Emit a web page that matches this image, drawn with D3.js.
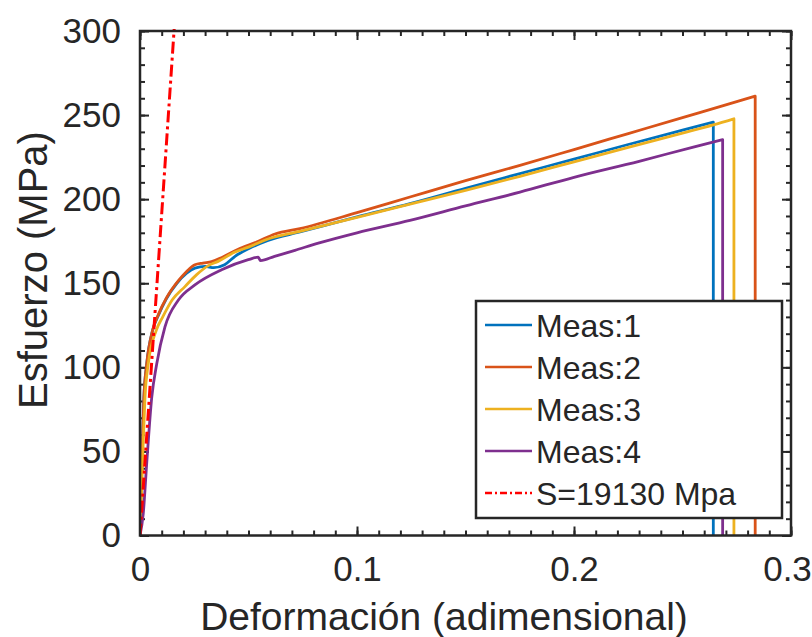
<!DOCTYPE html>
<html>
<head>
<meta charset="utf-8">
<script src="https://cdn.jsdelivr.net/npm/d3@7/dist/d3.min.js"></script>
<style>
  html, body { margin: 0; padding: 0; background: #fff; }
  svg text { font-family: "Liberation Sans", Arial, Helvetica, sans-serif; fill: #262626; }
</style>
</head>
<body>
<svg id="chart" width="812" height="637"></svg>
<script>
// ---- data (strain, stress MPa) ----
const seriesNames = ["Meas:1", "Meas:2", "Meas:3", "Meas:4"];
const seriesColors = ["#0072BD", "#D95319", "#EDB120", "#7E2F8E"];

const meas1 = [[0,0],[0.0005,25],[0.0011,53],[0.0018,82],[0.0031,102],[0.0058,122],[0.0085,131],[0.012,140.5],[0.017,150],[0.0215,156],[0.0253,159],[0.030,160],[0.034,159.3],[0.039,161],[0.0438,166],[0.05,170.5],[0.059,175.5],[0.0737,180.5],[0.1,189.5],[0.1244,197.4],[0.15,206.5],[0.1751,215.2],[0.2,223.8],[0.225,232.5],[0.25,241],[0.2642,245.8],[0.2642,0]];
const meas2 = [[0,0],[0.0005,25],[0.0011,53],[0.0018,82],[0.0031,102],[0.0058,122],[0.0085,131.5],[0.0123,141.5],[0.0177,151.5],[0.0215,157],[0.0253,161],[0.029,162],[0.033,162.8],[0.038,165.5],[0.045,170],[0.0537,174.5],[0.0622,179.3],[0.0737,182.5],[0.1,192],[0.1244,201.3],[0.15,211],[0.1751,220.1],[0.2,229.5],[0.225,239],[0.25,248.5],[0.2719,256.8],[0.2835,261.3],[0.2835,0]];
const meas3 = [[0,0],[0.0007,25],[0.0014,53],[0.0023,82],[0.0038,102],[0.0075,122],[0.0105,130],[0.0148,140],[0.0207,148],[0.026,155],[0.0315,160.5],[0.036,163],[0.0438,168.6],[0.05,171.5],[0.059,176.3],[0.0737,180.9],[0.1,189.2],[0.1244,197],[0.15,205.2],[0.1751,213.6],[0.2,222.2],[0.225,230.8],[0.25,239.3],[0.2642,244.2],[0.2737,247.8],[0.2737,0]];
const meas4 = [[0,0],[0.0015,13],[0.0031,43],[0.0054,82],[0.0077,102],[0.0115,124],[0.0177,140],[0.0253,149],[0.0376,158],[0.0499,164],[0.0545,165.5],[0.0555,163.5],[0.062,166],[0.0714,169.6],[0.0826,174],[0.1,180],[0.1244,187.4],[0.15,196],[0.1751,204.2],[0.2,213],[0.23,222.5],[0.255,231],[0.2685,235.4],[0.2685,0]];
const seriesData = [meas1, meas2, meas3, meas4];

const fitLabel = "S=19130 Mpa";
const fitModulus = 19130;           // MPa per unit strain
const fitStrain = [0, 0.3];

const xTicks = [0, 0.1, 0.2, 0.3];
const yTicks = [0, 50, 100, 150, 200, 250, 300];
const xLabel = "Deformación (adimensional)";
const yLabel = "Esfuerzo (MPa)";

// ---- layout ----
const svg = d3.select("#chart");
const L = 140, R = 791, T = 31, B = 535.5;
const ink = "#262626";

const x = d3.scaleLinear().domain([0, 0.3]).range([L, R]);
const y = d3.scaleLinear().domain([0, 300]).range([B, T]);

svg.append("defs").append("clipPath").attr("id", "plotclip")
  .append("rect").attr("x", L).attr("y", T - 2).attr("width", R - L).attr("height", B - T + 4);

const xMinor = d3.range(0, 0.3001, 0.01);
const yMinor = d3.range(0, 300.1, 10);
function styleAxis(g) {
  g.select(".domain").remove();
  g.selectAll(".tick line").attr("stroke", ink).attr("stroke-width", 2);
  g.selectAll(".tick text").attr("fill", ink).style("font-size", "35px");
}
// minor ticks
svg.append("g").attr("transform", `translate(0,${B})`)
  .call(d3.axisBottom(x).tickValues(xMinor).tickSize(-5).tickFormat("")).call(styleAxis);
svg.append("g").attr("transform", `translate(0,${T})`)
  .call(d3.axisTop(x).tickValues(xMinor).tickSize(-5).tickFormat("")).call(styleAxis);
svg.append("g").attr("transform", `translate(${L},0)`)
  .call(d3.axisLeft(y).tickValues(yMinor).tickSize(-5).tickFormat("")).call(styleAxis);
svg.append("g").attr("transform", `translate(${R},0)`)
  .call(d3.axisRight(y).tickValues(yMinor).tickSize(-5).tickFormat("")).call(styleAxis);

// major ticks
const xAxisG = svg.append("g").attr("transform", `translate(0,${B})`)
  .call(d3.axisBottom(x).tickValues(xTicks).tickSize(-9).tickPadding(21).tickFormat(d => d === 0 ? "0" : d3.format(".1f")(d)))
  .call(styleAxis);
// keep the last label inside the window
xAxisG.selectAll(".tick text").filter(d => d === 0.3).attr("x", -4);
svg.append("g").attr("transform", `translate(0,${T})`)
  .call(d3.axisTop(x).tickValues(xTicks).tickSize(-9).tickFormat("")).call(styleAxis);
svg.append("g").attr("transform", `translate(${L},0)`)
  .call(d3.axisLeft(y).tickValues(yTicks).tickSize(-9).tickPadding(19).tickFormat(d3.format("d")))
  .call(styleAxis);
svg.append("g").attr("transform", `translate(${R},0)`)
  .call(d3.axisRight(y).tickValues(yTicks).tickSize(-9).tickFormat("")).call(styleAxis);

// data lines: smooth rising part, straight vertical drop at fracture
const smooth = d3.line().x(d => x(d[0])).y(d => y(d[1])).curve(d3.curveMonotoneX);
const straight = d3.line().x(d => x(d[0])).y(d => y(d[1]));
const plot = svg.append("g").attr("clip-path", "url(#plotclip)");
seriesData.forEach((s, i) => {
  const body = s.slice(0, -1);
  const last = s[s.length - 1];
  const d = smooth(body) + "L" + x(last[0]) + "," + y(last[1]);
  plot.append("path").attr("d", d)
    .attr("fill", "none").attr("stroke", seriesColors[i])
    .attr("stroke-width", 2.8).attr("stroke-linejoin", "round");
});
plot.append("path").datum(fitStrain.map(e => [e, fitModulus * e])).attr("d", straight)
  .attr("fill", "none").attr("stroke", "#FF0000").attr("stroke-width", 3)
  .attr("stroke-dasharray", "12,4,3,4");

// box
svg.append("rect").attr("x", L).attr("y", T).attr("width", R - L).attr("height", B - T)
  .attr("fill", "none").attr("stroke", ink).attr("stroke-width", 2.5);

// axis labels
svg.append("text").attr("x", 444).attr("y", 630).attr("text-anchor", "middle")
  .style("font-size", "39px").text(xLabel);
svg.append("text").attr("transform", "translate(47,270) rotate(-90)").attr("text-anchor", "middle")
  .style("font-size", "40px").text(yLabel);

// legend
const lg = svg.append("g");
lg.append("rect").attr("x", 476).attr("y", 301).attr("width", 306).attr("height", 217)
  .attr("fill", "#fff").attr("stroke", ink).attr("stroke-width", 2.5);
const legendItems = seriesNames.map((n, i) => ({ name: n, color: seriesColors[i], dash: null }))
  .concat([{ name: fitLabel, color: "#FF0000", dash: "7,3,2,3" }]);
legendItems.forEach((it, i) => {
  const yy = 325 + i * 42;
  lg.append("line").attr("x1", 485).attr("x2", 532).attr("y1", yy).attr("y2", yy)
    .attr("stroke", it.color).attr("stroke-width", 2.6)
    .attr("stroke-dasharray", it.dash);
  lg.append("text").attr("x", 536).attr("y", yy).attr("dy", "0.36em")
    .style("font-size", "32px").text(it.name);
});
</script>
</body>
</html>
